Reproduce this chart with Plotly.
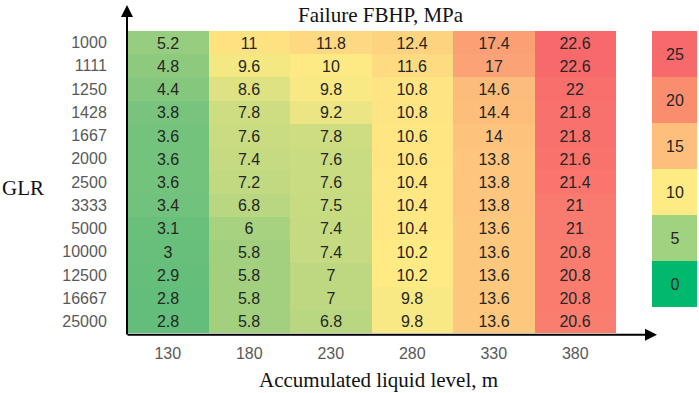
import plotly.graph_objects as go

glr = ["1000", "1111", "1250", "1428", "1667", "2000", "2500", "3333", "5000", "10000", "12500", "16667", "25000"]
levels = ["130", "180", "230", "280", "330", "380"]

col_130 = [5.2, 4.8, 4.4, 3.8, 3.6, 3.6, 3.6, 3.4, 3.1, 3, 2.9, 2.8, 2.8]
col_180 = [11, 9.6, 8.6, 7.8, 7.6, 7.4, 7.2, 6.8, 6, 5.8, 5.8, 5.8, 5.8]
col_230 = [11.8, 10, 9.8, 9.2, 7.8, 7.6, 7.6, 7.5, 7.4, 7.4, 7, 7, 6.8]
col_280 = [12.4, 11.6, 10.8, 10.8, 10.6, 10.6, 10.4, 10.4, 10.4, 10.2, 10.2, 9.8, 9.8]
col_330 = [17.4, 17, 14.6, 14.4, 14, 13.8, 13.8, 13.8, 13.6, 13.6, 13.6, 13.6, 13.6]
col_380 = [22.6, 22.6, 22, 21.8, 21.8, 21.6, 21.4, 21, 21, 20.8, 20.8, 20.8, 20.6]

legend_levels = [25, 20, 15, 10, 5, 0]
legend_colors = ["#F8696B", "#FA8D6E", "#FDBF7B", "#FFEB84", "#A0D27F", "#00B96F"]

cols = [col_130, col_180, col_230, col_280, col_330, col_380]
z = [[c[i] for c in cols] for i in range(len(glr))]
text = [[("%g" % v) for v in row] for row in z]

zmin, zmax = 2.8, 22.6
mid = 10.1
f = (mid - zmin) / (zmax - zmin)
cscale = [[0, "#63BE7B"], [f, "#FFEB84"], [1, "#F8696B"]]

num_font = "Liberation Sans, Arial"

fig = go.Figure()
fig.add_trace(go.Heatmap(
    z=z, x=levels, y=glr, text=text, texttemplate="%{text}",
    textfont=dict(family=num_font, size=16, color="#262626"),
    colorscale=cscale, zmin=zmin, zmax=zmax, showscale=False,
    xgap=0, ygap=0, hoverinfo="skip",
))

# discrete legend blocks
n = len(legend_levels)
lscale = []
for i, c in enumerate(reversed(legend_colors)):
    lscale.append([i / n, c])
    lscale.append([(i + 1) / n, c])
fig.add_trace(go.Heatmap(
    z=[[v] for v in legend_levels], x=["k"], y=[str(v) for v in legend_levels],
    text=[[str(v)] for v in legend_levels], texttemplate="%{text}",
    textfont=dict(family=num_font, size=16, color="#262626"),
    colorscale=lscale, zmin=-2.5, zmax=27.5, showscale=False,
    xaxis="x2", yaxis="y2", hoverinfo="skip",
))

W, H = 699, 393
x0, x1 = 127, 616
y0, y1 = 31, 333
fig.update_layout(
    width=W, height=H,
    margin=dict(l=0, r=0, t=0, b=0),
    paper_bgcolor="white", plot_bgcolor="white",
    xaxis=dict(domain=[x0 / W, x1 / W], type="category", showgrid=False, zeroline=False,
               ticks="outside", ticklen=6, tickcolor="rgba(0,0,0,0)",
               tickfont=dict(family=num_font, size=16, color="#595959"),
               showline=False),
    yaxis=dict(domain=[1 - y1 / H, 1 - y0 / H], type="category", autorange="reversed",
               showgrid=False, zeroline=False, ticks="outside", ticklen=16, tickcolor="rgba(0,0,0,0)",
               tickfont=dict(family=num_font, size=16, color="#595959"),
               showline=False),
    xaxis2=dict(domain=[652 / W, 697 / W], anchor="y2", visible=False),
    yaxis2=dict(domain=[1 - 307 / H, 1 - 31 / H], anchor="x2", type="category",
                autorange="reversed", visible=False),
    font=dict(family=num_font),
)

# axis arrows
fig.add_annotation(xref="x domain", yref="y domain", axref="x domain", ayref="y domain",
                   x=0, y=(y1 - 5) / (y1 - y0), ax=0, ay=-0.01, showarrow=True,
                   arrowhead=2, arrowsize=1.2, arrowwidth=2, arrowcolor="black", text="")
fig.add_annotation(xref="x domain", yref="y domain", axref="x domain", ayref="y domain",
                   x=(657 - x0) / (x1 - x0), y=-0.006, ax=-0.002, ay=-0.006, showarrow=True,
                   arrowhead=2, arrowsize=1.2, arrowwidth=2, arrowcolor="black", text="")

serif = "Liberation Serif, Times New Roman, serif"
fig.add_annotation(xref="paper", yref="paper", x=381 / W, y=1 - 15 / H, text="Failure FBHP, MPa",
                   xanchor="center", yanchor="middle",
                   showarrow=False, font=dict(family=serif, size=21, color="#111"))
fig.add_annotation(xref="paper", yref="paper", x=23 / W, y=1 - 188 / H, text="GLR",
                   xanchor="center", yanchor="middle",
                   showarrow=False, font=dict(family=serif, size=21, color="#111"))
fig.add_annotation(xref="paper", yref="paper", x=378 / W, y=1 - 380 / H, text="Accumulated liquid level, m",
                   xanchor="center", yanchor="middle",
                   showarrow=False, font=dict(family=serif, size=21, color="#111"))

fig.write_html("out.html", config={"displayModeBar": False},
               post_script="document.body.style.margin='0';document.body.style.overflow='hidden';")
